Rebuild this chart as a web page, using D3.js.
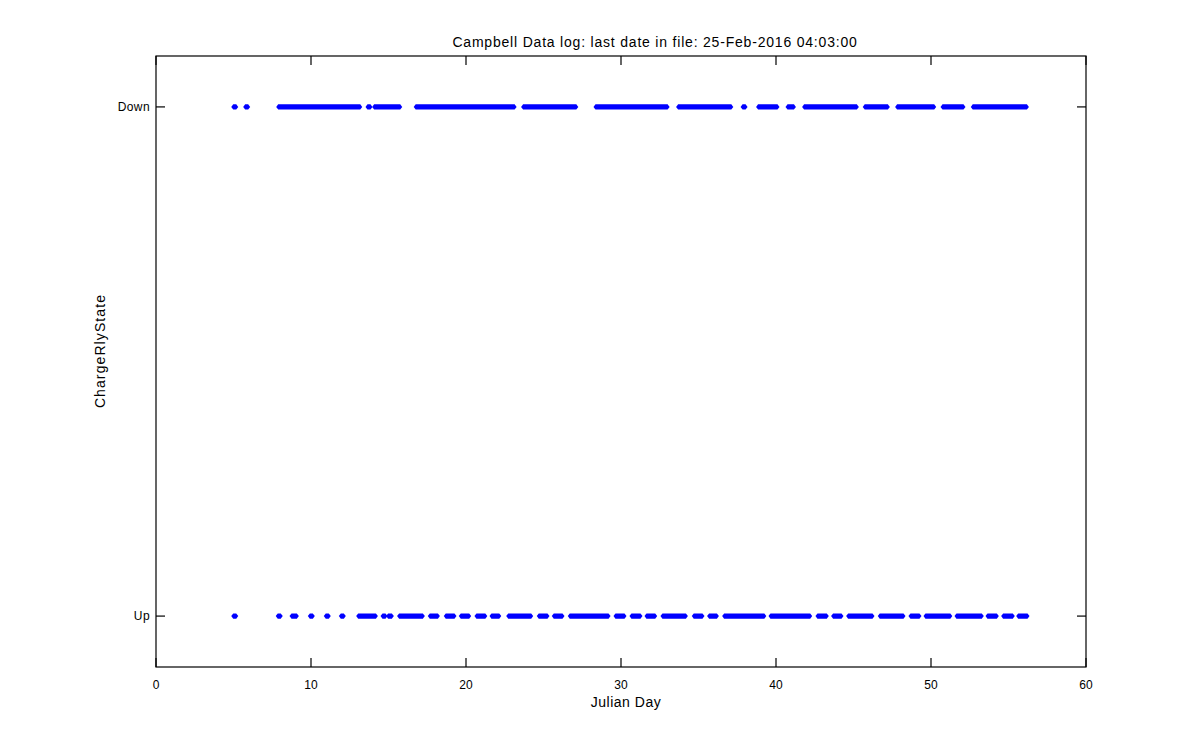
<!DOCTYPE html>
<html><head><meta charset="utf-8">
<script src="https://cdn.jsdelivr.net/npm/d3@7"></script>
<style>body{margin:0;background:#fff}svg{display:block}text{font-family:"Liberation Sans",Arial,sans-serif}</style>
</head><body><svg id="c" width="1200" height="750"></svg>
<script>
const titleText = "Campbell Data log: last date in file: 25-Feb-2016 04:03:00";
const xLabel = "Julian Day";
const yLabel = "ChargeRlyState";
const xTicks = [0, 10, 20, 30, 40, 50, 60];
const yCategories = ["Up", "Down"];          // Up = 0, Down = 1
// runs of densely logged samples: [start day, end day]
const downRuns = [
  [5.08,5.08],[5.85,5.85],[7.98,13.08],[13.74,13.74],[14.17,15.66],[16.85,23.04],
  [23.78,27.02],[28.45,32.91],[33.78,37.02],[37.94,37.94],[38.94,40.0],[40.84,41.06],
  [41.91,45.12],[45.82,47.12],[47.91,50.11],[50.84,52.0],[52.79,56.09]
];
const upRuns = [
  [5.08,5.08],[7.95,7.95],[8.84,8.99],[10.02,10.02],[11.05,11.05],[12.02,12.02],
  [13.14,14.09],[14.71,14.71],[15.07,15.12],[15.78,17.12],[17.76,18.09],[18.79,19.16],
  [19.76,20.11],[20.77,21.15],[21.74,22.05],[22.82,24.11],[24.79,25.16],[25.76,26.13],
  [26.79,29.1],[29.74,30.13],[30.77,31.16],[31.74,32.11],[32.77,34.09],[34.79,35.16],
  [35.78,36.09],[36.75,39.15],[39.74,42.11],[42.77,43.18],[43.78,44.13],[44.75,46.13],
  [46.79,48.13],[48.77,49.16],[49.74,51.15],[51.74,53.18],[53.74,54.15],[54.75,55.18],
  [55.72,56.13]
];

const svg = d3.select("#c");
const L = 156, R = 1086, T = 56, B = 667;
const x = d3.scaleLinear().domain([0, 60]).range([L, R]);
const y = d3.scaleLinear().domain([-0.1, 1.1]).range([B, T]);

function runPath(d, yv) {
  const x0 = x(d[0]), x1 = x(d[1]), yy = y(yv);
  return `M${x0-3.5},${yy} L${x0-1.5},${yy-2.6} L${x1+1.5},${yy-2.6} L${x1+3.5},${yy} L${x1+1.5},${yy+2.6} L${x0-1.5},${yy+2.6} Z`;
}
const g = svg.append("g");
g.selectAll("path.dn").data(downRuns).join("path").attr("class","dn")
  .attr("d", d => runPath(d, 1)).attr("fill", "#0000ff");
g.selectAll("path.up").data(upRuns).join("path").attr("class","up")
  .attr("d", d => runPath(d, 0)).attr("fill", "#0000ff");

// axes
const ax = svg.append("g").attr("stroke","#000").attr("stroke-width",1.2).attr("fill","none");
ax.append("rect").attr("x",L).attr("y",T).attr("width",R-L).attr("height",B-T);
const tl = 9;
xTicks.forEach(t => {
  ax.append("line").attr("x1",x(t)).attr("x2",x(t)).attr("y1",B).attr("y2",B-tl);
  ax.append("line").attr("x1",x(t)).attr("x2",x(t)).attr("y1",T).attr("y2",T+tl);
});
yCategories.forEach((c,i) => {
  ax.append("line").attr("x1",L).attr("x2",L+tl).attr("y1",y(i)).attr("y2",y(i));
  ax.append("line").attr("x1",R).attr("x2",R-tl).attr("y1",y(i)).attr("y2",y(i));
});
svg.selectAll("text.xt").data(xTicks).join("text").attr("class","xt")
  .attr("x", d => x(d)).attr("y", B + 22).attr("text-anchor","middle")
  .attr("font-size", 12).text(d => d);
svg.selectAll("text.yt").data(yCategories).join("text").attr("class","yt")
  .attr("x", L - 6).attr("y", (d,i) => y(i) + 4).attr("text-anchor","end")
  .attr("font-size", 12).attr("letter-spacing", 0.4).text(d => d);
svg.append("text").attr("x", 655).attr("y", 47).attr("text-anchor","middle")
  .attr("font-size", 14).attr("letter-spacing", 0.8).text(titleText);
svg.append("text").attr("x", 626).attr("y", 707).attr("text-anchor","middle")
  .attr("font-size", 14).attr("letter-spacing", 0.5).text(xLabel);
svg.append("text").attr("transform", `translate(105,351) rotate(-90)`)
  .attr("text-anchor","middle").attr("font-size", 14).attr("letter-spacing", 1.1).text(yLabel);
</script></body></html>
